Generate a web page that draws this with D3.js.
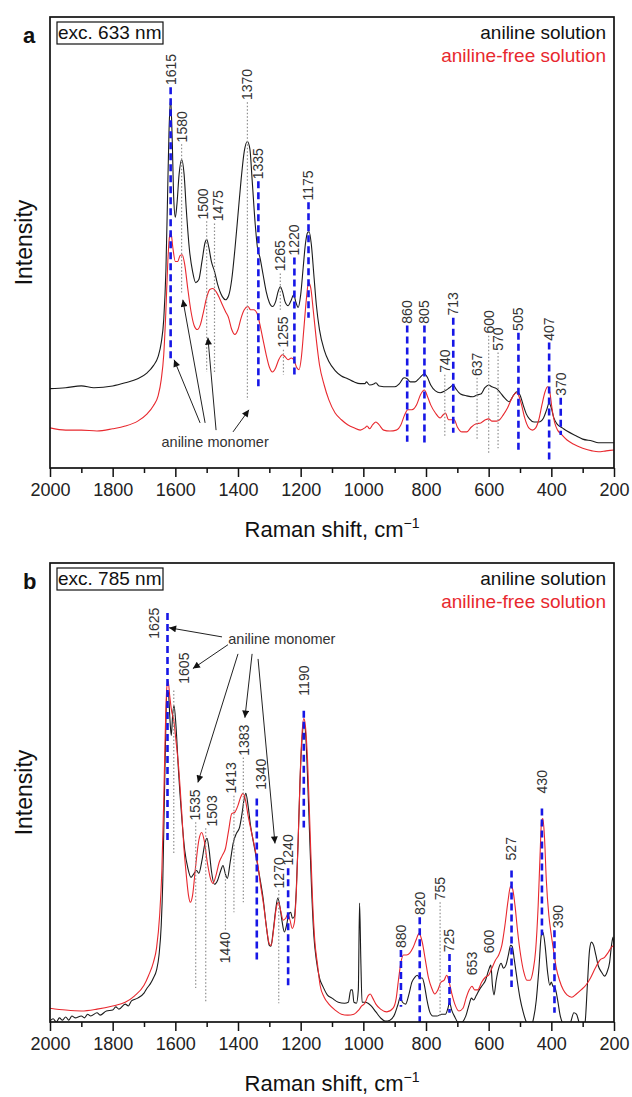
<!DOCTYPE html>
<html>
<head>
<meta charset="utf-8">
<script src="https://cdn.jsdelivr.net/npm/d3@7"></script>
<style>
  body { margin: 0; background: #fff; }
  svg { display: block; font-family: "Liberation Sans", Arial, sans-serif; }
</style>
</head>
<body>
<svg id="fig" width="632" height="1097"></svg>
<script>
// Raman shift ticks (cm^-1)
const majorTicks = [2000, 1800, 1600, 1400, 1200, 1000, 800, 600, 400, 200];
const minorTicks = [1900, 1700, 1500, 1300, 1100, 900, 700, 500, 300];

const seriesNames = ["aniline solution", "aniline-free solution"];
const excitation = ["exc. 633 nm", "exc. 785 nm"];
const panelLetters = ["a", "b"];
const monomerText = "aniline monomer";

// ---------- panel a: 633 nm excitation, [shift, intensity a.u.] ----------
const anilineA = [
  [2000,17.6],[1950,17.8],[1900,18.2],[1860,17.8],[1800,18.2],[1760,18.9],[1720,19.8],[1690,21.1],
  [1670,22.7],[1655,24.7],[1645,27.8],[1637,32.9],[1630,44],[1625,59.6],[1620,75.1],[1615,81.8],
  [1610,72.9],[1605,59.6],[1600,55.6],[1595,58.4],[1588,65.1],[1580,68.4],[1572,65.1],[1565,57.3],
  [1555,48.4],[1545,43.6],[1535,41.1],[1525,41.8],[1515,45.8],[1505,50],[1500,50.7],[1493,48.9],
  [1485,45.8],[1475,43.6],[1465,40.7],[1450,38],[1440,37.3],[1430,38.2],[1420,41.8],[1410,48.4],
  [1400,56.2],[1390,64],[1380,70.2],[1370,72.4],[1362,70.7],[1355,64],[1345,54],[1338,48.9],
  [1330,46.7],[1320,42.9],[1310,39.1],[1300,36.7],[1290,35.8],[1280,36.9],[1272,39.1],[1265,40.2],
  [1258,39.1],[1250,36.9],[1240,36],[1232,36.9],[1222,38.4],[1215,36.7],[1208,35.6],[1200,38.4],
  [1192,44.4],[1185,49.6],[1178,52.2],[1173,52.4],[1166,49.6],[1158,42.9],[1150,36.2],[1140,30.7],
  [1125,26.2],[1110,23.6],[1090,21.6],[1070,20.4],[1050,19.8],[1030,19.1],[1010,18.7],[995,18.7],
  [990,19.1],[980,18.4],[965,18.7],[960,18.9],[950,18.2],[920,18],[900,18],[885,18.7],[870,20],
  [860,19.8],[850,19.1],[835,19.1],[820,20],[805,20.9],[795,20],[785,18.4],[770,17.1],[755,16.7],
  [740,17.1],[725,17.8],[713,18.4],[705,17.6],[690,16.4],[670,16],[650,15.8],[637,16.2],[625,16.4],
  [612,17.8],[600,18.4],[590,18],[575,17.6],[565,16.9],[550,15.6],[535,14.7],[520,16.2],[510,16.9],
  [500,16.2],[490,14],[480,12],[470,10.9],[455,10.2],[440,10.2],[425,11.1],[415,12.9],[407,14.4],
  [400,13.3],[392,11.1],[380,9.6],[365,8.9],[350,8.2],[320,7.1],[300,6.4],[270,6],[250,5.6],
  [225,5.6],[200,5.6]
];
const freeA = [
  [2000,8.9],[1950,8.4],[1900,8.4],[1850,8.2],[1800,8.7],[1760,9.3],[1720,10.4],[1690,12],
  [1670,13.8],[1655,16],[1645,19.6],[1637,25.1],[1630,35.1],[1624,45.8],[1618,51.6],[1614,52.2],
  [1608,48.9],[1600,45.8],[1592,45.8],[1585,47.1],[1578,47.3],[1570,45.1],[1560,39.6],[1550,34.7],
  [1540,31.6],[1530,30.7],[1520,31.8],[1510,34.7],[1500,37.8],[1490,39.6],[1480,39.8],[1470,39.1],
  [1460,37.8],[1450,36.2],[1440,34.7],[1430,33.3],[1420,30.7],[1410,29.6],[1400,30.7],[1390,33.3],
  [1380,35.1],[1368,35.8],[1360,35.1],[1350,35.1],[1340,34.4],[1330,31.8],[1320,28.4],[1310,25.1],
  [1300,22.4],[1290,21.3],[1280,22.2],[1270,24],[1258,25.1],[1250,24.7],[1240,24],[1230,24.4],
  [1222,24],[1212,22.2],[1205,21.8],[1198,24.4],[1190,30.7],[1182,37.3],[1175,41.1],[1168,40],
  [1160,35.1],[1150,28.4],[1140,22.9],[1125,18.4],[1110,15.1],[1090,12.2],[1070,10.7],[1050,9.6],
  [1030,8.9],[1010,8.4],[995,8.9],[988,9.3],[980,8.7],[970,9.6],[960,10.2],[950,9.6],[935,8.4],
  [915,8.2],[895,8.4],[880,9.6],[868,11.8],[858,12.9],[845,12.9],[830,14],[818,16.2],[805,17.3],
  [795,15.8],[785,14],[770,12.2],[755,11.1],[745,11.8],[738,12.2],[728,10.7],[718,10.7],[710,10.7],
  [700,9.1],[685,8],[670,8],[655,9.1],[640,9.8],[625,10],[610,10.7],[600,10.9],[590,10.4],
  [575,10.4],[565,10.7],[555,11.6],[540,13.3],[525,15.6],[512,16.7],[505,16.2],[495,14],[485,11.1],
  [472,8.9],[460,8.4],[450,8.9],[440,10.7],[430,14],[420,16.9],[412,18],[405,16.9],[398,13.3],
  [390,10.2],[380,8.4],[370,7.6],[350,6.2],[330,5.3],[300,4.4],[270,3.8],[250,3.6],[225,3.8],[200,4]
];
// marked bands: b = dashed blue, d = dotted grey; lo/hi = extent of the marker line
const peaksA = [
  {wn:1615,t:"b",lo:24,hi:84.4,lab:84.9},
  {wn:1580,t:"d",lo:38.9,hi:71.8,lab:72.2},
  {wn:1500,t:"d",lo:21.3,hi:54.7,lab:55.1,dx:-4},
  {wn:1475,t:"d",lo:21.3,hi:54.2,lab:54.7,dx:4},
  {wn:1370,t:"d",lo:15.1,hi:81.1,lab:81.6},
  {wn:1335,t:"b",lo:17.3,hi:63.6,lab:64},
  {wn:1265,t:"d",lo:35.1,hi:43.1,lab:43.6},
  {wn:1255,t:"d",lo:20.7,hi:26.2,lab:26.7},
  {wn:1220,t:"b",lo:20,hi:46.7,lab:47.1},
  {wn:1175,t:"b",lo:33.3,hi:58.9,lab:59.3},
  {wn:860,t:"b",lo:5.8,hi:31.6,lab:32},
  {wn:805,t:"b",lo:5.1,hi:31.6,lab:32},
  {wn:740,t:"d",lo:6.9,hi:20.7,lab:21.1},
  {wn:713,t:"b",lo:7.8,hi:33.3,lab:33.8},
  {wn:637,t:"d",lo:6.2,hi:20,lab:20.4},
  {wn:600,t:"d",lo:3.3,hi:29.3,lab:29.8},
  {wn:570,t:"d",lo:4.4,hi:25.6,lab:26},
  {wn:505,t:"b",lo:4,hi:30,lab:30.4},
  {wn:407,t:"b",lo:1.8,hi:27.8,lab:28.2},
  {wn:370,t:"b",lo:7.3,hi:15.6,lab:16}
];
// monomer pointers: [from shift, from I, to shift, to I]
const arrowsA = [[1521,10,1604,24],[1505,10,1576,37.3],[1470,8.4,1496,28.9],[1416,8,1365,12.9]];
const monomerLabelA = [1473,5.8];

// ---------- panel b: 785 nm excitation ----------
const anilineB = [
  [2000,0.2],[1990,0.7],[1980,0],[1970,0.9],[1960,0.4],[1950,1.1],[1940,0.4],[1930,1.3],[1920,0.9],
  [1900,1.3],[1890,0.9],[1880,1.7],[1870,1.3],[1850,2],[1840,1.5],[1820,2.4],[1800,2.6],[1790,3.3],
  [1780,2.8],[1760,3.9],[1750,3.5],[1740,4.6],[1720,5.2],[1700,6.3],[1690,7.4],[1680,8.3],[1670,9.6],
  [1660,11.3],[1652,14.6],[1645,21.1],[1640,30.9],[1635,48.3],[1630,65.7],[1627,72.2],[1622,71.7],
  [1617,65.7],[1613,62.4],[1608,67.4],[1604,68.9],[1598,64.6],[1590,54.8],[1580,45],[1570,37.4],
  [1560,33.5],[1550,31.5],[1540,32.4],[1532,33],[1525,32.4],[1515,35.2],[1505,39.1],[1499,40],
  [1492,37.4],[1485,33],[1475,30],[1465,30.9],[1455,33],[1448,34.1],[1440,32.2],[1434,31.3],
  [1425,34.8],[1415,39.1],[1405,41.1],[1395,42.4],[1388,45],[1380,48.7],[1375,49.8],[1368,47.2],
  [1360,42.8],[1350,38.9],[1340,35.2],[1330,31.3],[1320,27],[1310,21.1],[1300,16.7],[1295,16.5],
  [1288,19.6],[1280,24.3],[1273,27],[1267,25.4],[1260,22.2],[1252,19.6],[1245,21.1],[1238,23.5],
  [1232,23.9],[1226,22.6],[1220,23],[1214,28.7],[1208,39.6],[1202,52.6],[1196,61.3],[1190,64.6],
  [1186,64.1],[1180,57],[1172,41.7],[1165,28.7],[1158,18.9],[1150,13.5],[1140,9.6],[1128,7.6],
  [1115,5.9],[1100,5.2],[1080,4.3],[1060,4.1],[1048,4.3],[1040,7],[1035,7],[1030,4.3],[1022,4.1],
  [1016,7],[1012,25.9],[1008,13.5],[1004,4.3],[995,4.3],[985,4.1],[975,3.5],[960,2.2],[945,0.9],
  [930,0.2],[915,0.4],[900,1.7],[890,3.7],[882,5.4],[875,4.3],[865,3.9],[855,5.9],[845,8.7],
  [835,9.8],[828,10.2],[820,9.6],[812,9.6],[805,8],[797,4.8],[788,2.2],[778,1.3],[765,1.3],
  [750,1.7],[738,1.7],[730,3],[725,4.3],[718,2.6],[708,1.1],[698,0],[685,0],[672,1.5],[662,3.9],
  [655,5.2],[648,4.8],[640,5.7],[630,7],[620,8],[610,9.1],[600,11.3],[593,12.4],[588,8],[583,5.9],
  [576,9.1],[568,11.7],[560,12.8],[553,11.7],[545,12.4],[537,14.6],[530,16.7],[525,16.5],[518,13.5],
  [510,9.6],[500,5.2],[490,2.2],[480,0],[468,-1.3],[458,0.4],[448,4.8],[440,11.3],[432,18.9],
  [427,19.6],[420,16.7],[412,10.9],[405,8],[400,8.7],[395,7.8],[388,7.4],[380,4.8],[372,1.5],
  [362,-0.7],[350,-2.2],[338,0],[328,2],[320,1.7],[312,0],[302,-2.8],[292,0],[285,8],[278,15.7],
  [272,17.4],[265,16.7],[258,14.6],[250,12.2],[240,10.9],[230,10],[222,10.9],[214,13],[208,16.7],
  [203,18.5],[200,15.7]
];
const freeB = [
  [2000,3],[1950,2.6],[1900,2.4],[1850,2.8],[1800,3.5],[1760,4.3],[1730,5.7],[1700,8],[1685,10.2],
  [1670,13],[1660,16.1],[1650,23.3],[1643,33],[1637,48.3],[1632,63.5],[1627,73],[1623,74.3],
  [1618,71.1],[1612,67.8],[1605,65.7],[1598,61.3],[1590,55.9],[1580,46.1],[1572,37.4],[1565,32],
  [1558,27.6],[1552,26.1],[1545,27.6],[1535,34.1],[1525,39.6],[1516,41.3],[1508,39.6],[1498,34.8],
  [1488,31.3],[1480,30.2],[1470,32],[1460,34.8],[1450,36.3],[1440,37.8],[1430,41.7],[1420,45.4],
  [1410,45.7],[1400,47.2],[1392,48.9],[1384,49.8],[1376,48.3],[1368,45],[1358,41.7],[1348,38.5],
  [1338,34.8],[1328,29.8],[1318,25.4],[1308,20],[1300,17],[1294,16.7],[1286,20.4],[1278,24.8],
  [1271,26.1],[1264,24.3],[1256,22.2],[1248,22.6],[1241,23.5],[1234,22.2],[1227,20.4],[1220,21.7],
  [1213,29.8],[1207,41.7],[1201,54.8],[1195,63.5],[1190,66.1],[1185,64.6],[1178,57],[1170,41.7],
  [1162,26.5],[1155,17.8],[1146,12.4],[1138,8],[1125,5.4],[1110,3.9],[1090,2.6],[1070,1.7],
  [1050,1.5],[1030,1.7],[1015,2.6],[1005,3.5],[995,4.1],[985,5.7],[978,6.1],[970,5.2],[960,3.9],
  [945,2.8],[925,2.2],[905,3],[895,5.2],[888,9.1],[880,13],[872,14.6],[862,14.6],[852,15],
  [842,16.1],[832,17.8],[822,19.3],[812,17.4],[802,13.5],[792,9.6],[782,7.4],[772,6.1],[762,7],
  [752,8.7],[742,9.1],[734,10.2],[726,8.7],[718,6.3],[708,3.9],[695,2.4],[682,3],[672,5.2],[662,7],
  [653,7.8],[645,7],[635,7],[622,8.7],[610,9.8],[600,10.2],[590,11.7],[578,13.5],[568,14.6],
  [558,16.7],[548,21.1],[538,26.5],[530,29.6],[524,29.1],[516,25.4],[508,20],[498,14.6],[488,10.9],
  [478,9.1],[468,9.1],[458,11.3],[450,15.7],[442,25.4],[436,36.3],[431,43.9],[427,44.3],[422,40.4],
  [416,30.9],[408,23.3],[400,18.9],[392,15.2],[384,11.7],[374,9.1],[362,7],[350,5.9],[335,5.4],
  [320,6.1],[305,7],[290,8],[275,9.6],[260,11.7],[245,13.5],[230,14.1],[218,15.2],[208,16.3],[200,16.7]
];
const peaksB = [
  {wn:1625,t:"b",lo:39.6,hi:89.1,lab:83.5,dx:-13},
  {wn:1605,t:"d",lo:36.7,hi:72.2,lab:73.7,dx:10},
  {wn:1535,t:"d",lo:7.4,hi:43.5,lab:43.9,dx:-1},
  {wn:1503,t:"d",lo:4.1,hi:42.2,lab:42.6,dx:6},
  {wn:1413,t:"d",lo:23.9,hi:49.3,lab:49.8,dx:-3},
  {wn:1383,t:"d",lo:26.1,hi:57.6,lab:58,dx:1},
  {wn:1340,t:"b",lo:13,hi:48.7,lab:50.6,dx:4},
  {wn:1440,t:"d",lo:20,hi:32.6,lab:19.6,below:true},
  {wn:1270,t:"d",lo:4.1,hi:28.7,lab:29.1},
  {wn:1240,t:"b",lo:7.6,hi:33.5,lab:34.1},
  {wn:1190,t:"b",lo:42.4,hi:67.8,lab:71.1},
  {wn:880,t:"b",lo:3.3,hi:15.7,lab:16.1},
  {wn:820,t:"b",lo:0,hi:22.8,lab:23.3},
  {wn:755,t:"d",lo:1.1,hi:26.1,lab:26.5},
  {wn:725,t:"b",lo:2,hi:14.8,lab:15.2},
  {wn:653,t:"n",lab:10.2},
  {wn:600,t:"n",lab:15},
  {wn:527,t:"b",lo:7.6,hi:33,lab:35.2},
  {wn:430,t:"b",lo:18.9,hi:46.5,lab:49.8},
  {wn:390,t:"b",lo:2,hi:20,lab:20.4,dx:4}
];
const arrowsB = [[1451,83.9,1620,85.9],[1432,82.2,1544,77],[1400,80.2,1528,52.2],[1355,80.2,1378,66.3],[1336,79.1,1282,38.9]];
const monomerLabelB = [1260,83.5];

// ---------- drawing ----------
const svg = d3.select("#fig");
const BLACK = "#1b1b1b", RED = "#e8282e", BLUE = "#1717e6", GREY = "#8f8f8f", TEXT = "#333";

const defs = svg.append("defs");
defs.append("marker")
  .attr("id", "arrowhead").attr("viewBox", "0 0 10 10")
  .attr("refX", 10).attr("refY", 5)
  .attr("markerWidth", 9).attr("markerHeight", 7)
  .attr("markerUnits", "userSpaceOnUse").attr("orient", "auto")
  .append("path").attr("d", "M0,0 L10,5 L0,10 z").attr("fill", "#111");

function drawPanel(p, idx) {
  const left = 50, right = 614;
  const x = d3.scaleLinear().domain([2000, 200]).range([left, right]);
  const y = d3.scaleLinear().domain([0, 100]).range([p.bottom, p.top]);
  const g = svg.append("g");

  const clipId = "clip" + idx;
  defs.append("clipPath").attr("id", clipId)
    .append("rect").attr("x", left).attr("y", p.top)
    .attr("width", right - left).attr("height", p.bottom - p.top);

  const line = d3.line().x(d => x(d[0])).y(d => y(d[1])).curve(d3.curveMonotoneX);
  const curves = g.append("g").attr("clip-path", `url(#${clipId})`);
  p.series.forEach(s => {
    curves.append("path").datum(s.data)
      .attr("d", line).attr("fill", "none")
      .attr("stroke", s.color).attr("stroke-width", 1.1)
      .attr("stroke-linejoin", "round");
  });

  // band markers
  const marks = g.append("g");
  p.peaks.filter(d => d.t !== "n").forEach(d => {
    marks.append("line")
      .attr("x1", x(d.wn)).attr("x2", x(d.wn))
      .attr("y1", y(d.hi)).attr("y2", y(d.lo))
      .attr("stroke", d.t === "b" ? BLUE : GREY)
      .attr("stroke-width", d.t === "b" ? 2.6 : 1.2)
      .attr("stroke-dasharray", d.t === "b" ? "7,4" : "1.5,2");
  });
  p.peaks.forEach(d => {
    const px = x(d.wn) + (d.dx || 0), py = y(d.lab);
    marks.append("text")
      .attr("transform", `translate(${px},${py}) rotate(-90)`)
      .attr("dy", "0.35em")
      .attr("text-anchor", d.below ? "end" : "start")
      .attr("font-size", 14).attr("fill", TEXT)
      .text(d.wn);
  });

  // monomer pointers
  p.arrows.forEach(a => {
    g.append("line")
      .attr("x1", x(a[0])).attr("y1", y(a[1]))
      .attr("x2", x(a[2])).attr("y2", y(a[3]))
      .attr("stroke", "#222").attr("stroke-width", 1)
      .attr("marker-end", "url(#arrowhead)");
  });
  g.append("text")
    .attr("x", x(p.monomer[0])).attr("y", y(p.monomer[1]))
    .attr("dy", "0.35em").attr("text-anchor", "middle")
    .attr("font-size", 14.5).attr("fill", TEXT)
    .text(monomerText);

  // frame
  g.append("rect")
    .attr("x", left).attr("y", p.top)
    .attr("width", right - left).attr("height", p.bottom - p.top)
    .attr("fill", "none").attr("stroke", "#111").attr("stroke-width", 1.7);

  // bottom axis: major + minor ticks
  const ax = g.append("g").attr("transform", `translate(0,${p.bottom})`)
    .call(d3.axisBottom(x).tickValues(majorTicks).tickFormat(d3.format("d"))
      .tickSize(9).tickPadding(6).tickSizeOuter(0));
  ax.select(".domain").remove();
  ax.selectAll("line").attr("stroke", "#111").attr("stroke-width", 1.5);
  ax.selectAll("text").attr("font-size", 18).attr("fill", "#222")
    .attr("font-family", "'Liberation Sans', Arial, sans-serif");
  const axm = g.append("g").attr("transform", `translate(0,${p.bottom})`)
    .call(d3.axisBottom(x).tickValues(minorTicks).tickFormat("").tickSize(5).tickSizeOuter(0));
  axm.select(".domain").remove();
  axm.selectAll("line").attr("stroke", "#111").attr("stroke-width", 1.5);

  // axis titles
  const xt = g.append("text")
    .attr("x", (left + right) / 2).attr("y", p.bottom + 69)
    .attr("text-anchor", "middle").attr("font-size", 22).attr("fill", "#111");
  xt.append("tspan").text("Raman shift, cm");
  xt.append("tspan").attr("font-size", 14).attr("dy", -9).text("\u22121");

  g.append("text")
    .attr("transform", `translate(32,${(p.top + p.bottom) / 2}) rotate(-90)`)
    .attr("text-anchor", "middle").attr("font-size", 23).attr("fill", "#111")
    .text("Intensity");

  // panel letter and excitation box
  g.append("text").attr("x", 23).attr("y", p.top + 26)
    .attr("font-size", 22).attr("font-weight", "bold").attr("fill", "#111")
    .text(panelLetters[idx]);
  g.append("rect").attr("x", 57).attr("y", p.top + 5).attr("width", 106).attr("height", 22)
    .attr("fill", "#fff").attr("stroke", "#111").attr("stroke-width", 1.2);
  g.append("text").attr("x", 58).attr("y", p.top + 22)
    .attr("font-size", 19).attr("fill", "#111").text(excitation[idx]);

  // legend
  [BLACK, RED].forEach((c, i) => {
    g.append("text").attr("x", 606).attr("y", p.top + 22 + i * 23)
      .attr("text-anchor", "end").attr("font-size", 19).attr("fill", c === BLACK ? "#111" : RED)
      .text(seriesNames[i]);
  });
}

drawPanel({
  top: 17, bottom: 468,
  series: [{data: anilineA, color: BLACK}, {data: freeA, color: RED}],
  peaks: peaksA, arrows: arrowsA, monomer: monomerLabelA
}, 0);

drawPanel({
  top: 563, bottom: 1022,
  series: [{data: anilineB, color: BLACK}, {data: freeB, color: RED}],
  peaks: peaksB, arrows: arrowsB, monomer: monomerLabelB
}, 1);
</script>
</body>
</html>
